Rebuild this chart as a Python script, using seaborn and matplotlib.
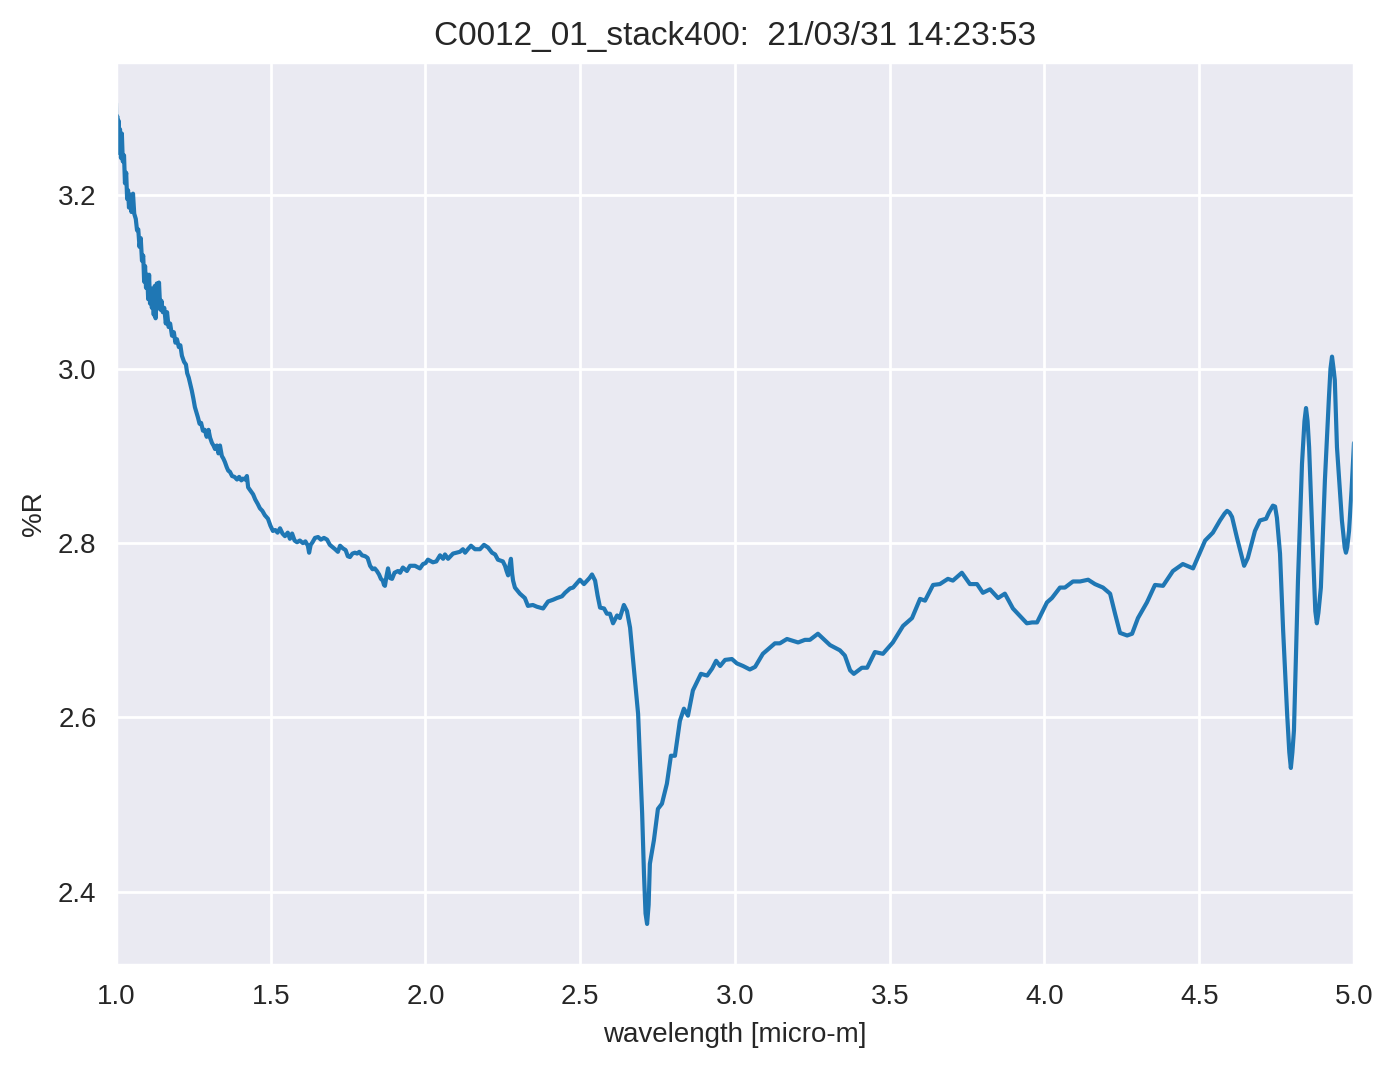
import numpy as np
import pandas as pd
import matplotlib
matplotlib.use("Agg")
import matplotlib.pyplot as plt
import seaborn as sns

title = "C0012_01_stack400:  21/03/31 14:23:53"
xlabel = "wavelength [micro-m]"
ylabel = "%R"

wavelength = [
    1.000, 1.002, 1.004, 1.006, 1.008, 1.010, 1.013, 1.016, 1.019, 1.022,
    1.026, 1.029, 1.033, 1.036, 1.039, 1.042, 1.046, 1.050, 1.055, 1.059,
    1.064, 1.068, 1.072, 1.076, 1.080, 1.084, 1.088, 1.091, 1.094, 1.097,
    1.101, 1.104, 1.107, 1.110, 1.113, 1.116, 1.119, 1.122, 1.125, 1.128,
    1.132, 1.135, 1.139, 1.143, 1.147, 1.151, 1.156, 1.161, 1.165, 1.170,
    1.175, 1.181, 1.187, 1.192, 1.197, 1.203, 1.208, 1.213, 1.220, 1.226,
    1.230, 1.235, 1.239, 1.245, 1.250, 1.255, 1.260, 1.265, 1.270, 1.275,
    1.281, 1.287, 1.293, 1.299, 1.304, 1.310, 1.315, 1.320, 1.326, 1.331,
    1.336, 1.342, 1.347, 1.352, 1.358, 1.363, 1.368, 1.375, 1.383, 1.391,
    1.398, 1.405, 1.410, 1.417, 1.423, 1.427, 1.435, 1.443, 1.450, 1.458,
    1.465, 1.473, 1.481, 1.491, 1.499, 1.507, 1.515, 1.522, 1.530, 1.538,
    1.546, 1.555, 1.562, 1.569, 1.577, 1.585, 1.594, 1.604, 1.612, 1.620,
    1.624, 1.629, 1.635, 1.643, 1.653, 1.662, 1.672, 1.682, 1.691, 1.701,
    1.708, 1.717, 1.724, 1.733, 1.742, 1.749, 1.756, 1.764, 1.772, 1.779,
    1.786, 1.795, 1.805, 1.813, 1.821, 1.829, 1.836, 1.843, 1.850, 1.856,
    1.862, 1.866, 1.869, 1.874, 1.879, 1.885, 1.892, 1.900, 1.911, 1.918,
    1.927, 1.940, 1.950, 1.966, 1.982, 1.992, 2.000, 2.008, 2.024, 2.035,
    2.047, 2.057, 2.063, 2.073, 2.089, 2.100, 2.111, 2.121, 2.128, 2.137,
    2.147, 2.160, 2.176, 2.189, 2.202, 2.215, 2.225, 2.234, 2.250, 2.257,
    2.262, 2.267, 2.271, 2.276, 2.280, 2.283, 2.289, 2.305, 2.321, 2.331,
    2.347, 2.360, 2.380, 2.396, 2.412, 2.425, 2.441, 2.451, 2.467, 2.477,
    2.499, 2.512, 2.530, 2.538, 2.548, 2.556, 2.564, 2.577, 2.586, 2.596,
    2.606, 2.619, 2.628, 2.641, 2.651, 2.661, 2.670, 2.677, 2.687, 2.700,
    2.706, 2.711, 2.716, 2.721, 2.725, 2.738, 2.751, 2.764, 2.780, 2.793,
    2.806, 2.822, 2.835, 2.848, 2.864, 2.890, 2.910, 2.926, 2.939, 2.952,
    2.968, 2.990, 3.006, 3.026, 3.048, 3.065, 3.090, 3.129, 3.145, 3.168,
    3.204, 3.226, 3.242, 3.268, 3.307, 3.339, 3.355, 3.372, 3.384, 3.410,
    3.427, 3.452, 3.478, 3.510, 3.543, 3.572, 3.598, 3.614, 3.640, 3.662,
    3.688, 3.704, 3.733, 3.759, 3.782, 3.801, 3.824, 3.850, 3.872, 3.898,
    3.914, 3.943, 3.960, 3.976, 4.008, 4.024, 4.050, 4.066, 4.092, 4.115,
    4.141, 4.163, 4.189, 4.212, 4.228, 4.244, 4.267, 4.283, 4.302, 4.331,
    4.357, 4.383, 4.415, 4.447, 4.480, 4.519, 4.544, 4.567, 4.582, 4.590,
    4.598, 4.606, 4.622, 4.645, 4.657, 4.680, 4.696, 4.716, 4.725, 4.738,
    4.745, 4.751, 4.761, 4.771, 4.784, 4.791, 4.796, 4.801, 4.806, 4.819,
    4.832, 4.840, 4.845, 4.850, 4.855, 4.867, 4.875, 4.880, 4.885, 4.893,
    4.906, 4.919, 4.924, 4.929, 4.934, 4.938, 4.945, 4.961, 4.970, 4.974,
    4.978, 4.984, 4.992, 5.000,
]

reflectance = [
    3.305, 3.250, 3.290, 3.255, 3.285, 3.248, 3.275, 3.242, 3.270, 3.238,
    3.245, 3.213, 3.225, 3.195, 3.205, 3.185, 3.200, 3.180, 3.201, 3.178,
    3.172, 3.159, 3.160, 3.140, 3.150, 3.124, 3.130, 3.100, 3.118, 3.093,
    3.108, 3.080, 3.108, 3.075, 3.092, 3.070, 3.088, 3.062, 3.095, 3.058,
    3.098, 3.070, 3.099, 3.068, 3.078, 3.065, 3.070, 3.052, 3.065, 3.048,
    3.052, 3.038, 3.042, 3.030, 3.034, 3.025, 3.027, 3.015, 3.008, 3.005,
    2.995, 2.990, 2.984, 2.975, 2.966, 2.956, 2.950, 2.944, 2.937, 2.938,
    2.929, 2.930, 2.922, 2.930, 2.921, 2.915, 2.912, 2.908, 2.912, 2.903,
    2.912, 2.900, 2.897, 2.893, 2.887, 2.883, 2.882, 2.877, 2.876, 2.873,
    2.876, 2.872, 2.874, 2.873, 2.877, 2.864, 2.860, 2.856, 2.850, 2.845,
    2.840, 2.837, 2.832, 2.828, 2.820, 2.814, 2.815, 2.812, 2.817, 2.811,
    2.808, 2.812, 2.805, 2.811, 2.803, 2.801, 2.803, 2.800, 2.802, 2.797,
    2.789, 2.798, 2.801, 2.806, 2.807, 2.804, 2.806, 2.804, 2.798, 2.795,
    2.793, 2.790, 2.797, 2.794, 2.792, 2.785, 2.784, 2.788, 2.789, 2.788,
    2.790, 2.786, 2.785, 2.783, 2.774, 2.770, 2.771, 2.768, 2.764, 2.759,
    2.757, 2.752, 2.751, 2.762, 2.771, 2.760, 2.759, 2.766, 2.768, 2.766,
    2.772, 2.768, 2.774, 2.774, 2.771, 2.776, 2.777, 2.781, 2.778, 2.779,
    2.786, 2.782, 2.787, 2.782, 2.788, 2.789, 2.790, 2.793, 2.789, 2.793,
    2.797, 2.793, 2.793, 2.798, 2.795, 2.789, 2.787, 2.781, 2.779, 2.774,
    2.768, 2.763, 2.773, 2.782, 2.765, 2.757, 2.749, 2.742, 2.737, 2.728,
    2.729, 2.727, 2.725, 2.733, 2.735, 2.737, 2.739, 2.743, 2.748, 2.749,
    2.758, 2.753, 2.760, 2.764, 2.757, 2.740, 2.726, 2.725, 2.719, 2.719,
    2.708, 2.717, 2.714, 2.729, 2.722, 2.703, 2.669, 2.642, 2.604, 2.490,
    2.420, 2.375, 2.363, 2.385, 2.432, 2.459, 2.495, 2.501, 2.524, 2.556,
    2.556, 2.596, 2.610, 2.602, 2.631, 2.650, 2.648, 2.656, 2.665, 2.659,
    2.666, 2.667, 2.662, 2.659, 2.655, 2.658, 2.673, 2.685, 2.685, 2.690,
    2.686, 2.689, 2.689, 2.696, 2.683, 2.677, 2.671, 2.654, 2.650, 2.657,
    2.657, 2.675, 2.673, 2.686, 2.705, 2.714, 2.736, 2.734, 2.752, 2.753,
    2.759, 2.757, 2.766, 2.753, 2.753, 2.743, 2.747, 2.737, 2.742, 2.725,
    2.719, 2.708, 2.709, 2.709, 2.732, 2.737, 2.749, 2.749, 2.756, 2.756,
    2.758, 2.753, 2.749, 2.742, 2.719, 2.697, 2.694, 2.696, 2.714, 2.732,
    2.752, 2.751, 2.768, 2.776, 2.771, 2.803, 2.812, 2.826, 2.834, 2.837,
    2.835, 2.830, 2.806, 2.774, 2.783, 2.814, 2.826, 2.828, 2.835, 2.843,
    2.842, 2.829, 2.788, 2.700, 2.604, 2.560, 2.542, 2.560, 2.585, 2.757,
    2.891, 2.940, 2.955, 2.940, 2.910, 2.795, 2.722, 2.708, 2.720, 2.749,
    2.872, 2.967, 3.000, 3.014, 3.000, 2.987, 2.910, 2.826, 2.795, 2.789,
    2.795, 2.814, 2.860, 2.915,
]

df = pd.DataFrame({"wavelength": wavelength, "R": reflectance})

sns.set_theme(style="darkgrid")
plt.rcParams["font.family"] = ["Liberation Sans", "DejaVu Sans"]

fig = plt.figure(figsize=(6.97, 5.345), dpi=200)
ax = fig.add_axes([0.0832, 0.0973, 0.8881, 0.8447])
sns.lineplot(data=df, x="wavelength", y="R", ax=ax, color="#1f77b4",
             linewidth=1.5, sort=False)
ax.set_xlim(1.0, 5.0)
ax.set_title(title, fontsize=12)
ax.set_xlabel(xlabel, fontsize=10)
ax.set_ylabel(ylabel, fontsize=10)
ax.tick_params(labelsize=10, length=0, pad=7)
fig.savefig("out.png", dpi=200)
